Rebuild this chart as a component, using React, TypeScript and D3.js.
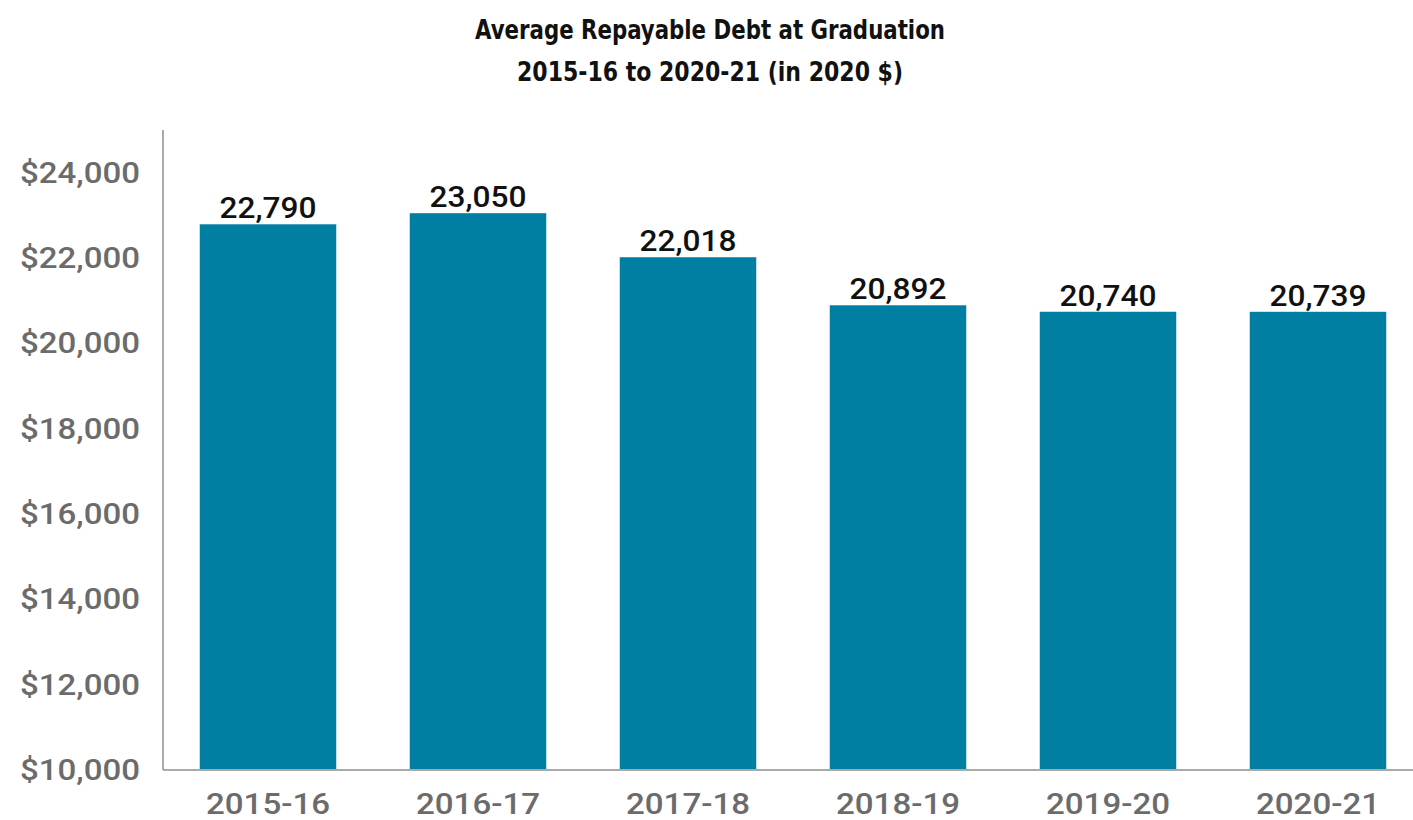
import React from 'react';
import * as d3 from 'd3';

const years = ['2015-16', '2016-17', '2017-18', '2018-19', '2019-20', '2020-21'];
const debt = [22790, 23050, 22018, 20892, 20740, 20739];
const yTicks = [10000, 12000, 14000, 16000, 18000, 20000, 22000, 24000];

const W = 1413;
const H = 820;
const margin = { top: 130, right: -10, bottom: 50, left: 163 };

export default function App() {
  const x = d3.scaleBand<string>()
    .domain(years)
    .range([margin.left, W - margin.right])
    .paddingInner(0.35)
    .paddingOuter(0.175);

  const y = d3.scaleLinear()
    .domain([10000, 25000])
    .range([H - margin.bottom, margin.top]);

  const money = d3.format('$,');
  const comma = d3.format(',');
  const base = y(10000);

  // the source font is wider than Roboto, so labels are stretched to its widths
  const stretch = { lengthAdjust: 'spacingAndGlyphs' as const };

  return (
    <svg width={W} height={H} style={{ position: 'absolute', left: 0, top: 0, background: '#fff' }}>
      <g fontFamily="'DejaVu Sans Condensed', 'Liberation Sans Narrow', sans-serif" fontWeight="bold" fill="#111" textAnchor="middle">
        <text x={710} y={39} fontSize={26} textLength={470} {...stretch}>Average Repayable Debt at Graduation</text>
        <text x={710} y={81} fontSize={26} textLength={386} {...stretch}>2015-16 to 2020-21 (in 2020 $)</text>
      </g>

      {years.map((yr, i) => (
        <g key={yr}>
          <rect
            x={x(yr)}
            y={y(debt[i])}
            width={x.bandwidth()}
            height={base - y(debt[i])}
            fill="#007fa3"
          />
          <text
            x={(x(yr) ?? 0) + x.bandwidth() / 2}
            y={y(debt[i]) - 6}
            textAnchor="middle"
            fontFamily="Roboto, sans-serif"
            fontWeight={500}
            fontSize={29}
            textLength={97}
            {...stretch}
            fill="#111"
          >
            {comma(debt[i])}
          </text>
          <text
            x={(x(yr) ?? 0) + x.bandwidth() / 2}
            y={base + 44}
            textAnchor="middle"
            fontFamily="Roboto, sans-serif"
            fontWeight={500}
            fontSize={29}
            textLength={124}
            {...stretch}
            fill="#6b6b6b"
          >
            {yr}
          </text>
        </g>
      ))}

      {yTicks.map(t => (
        <text
          key={t}
          x={margin.left - 23}
          y={y(t) + 10}
          textAnchor="end"
          fontFamily="Roboto, sans-serif"
          fontWeight={500}
          fontSize={29}
          textLength={120}
          {...stretch}
          fill="#6b6b6b"
        >
          {money(t)}
        </text>
      ))}

      <line x1={margin.left} x2={margin.left} y1={margin.top} y2={base} stroke="#aaa" strokeWidth={2} />
      <line x1={margin.left} x2={W} y1={base} y2={base} stroke="#aaa" strokeWidth={2} />
    </svg>
  );
}
